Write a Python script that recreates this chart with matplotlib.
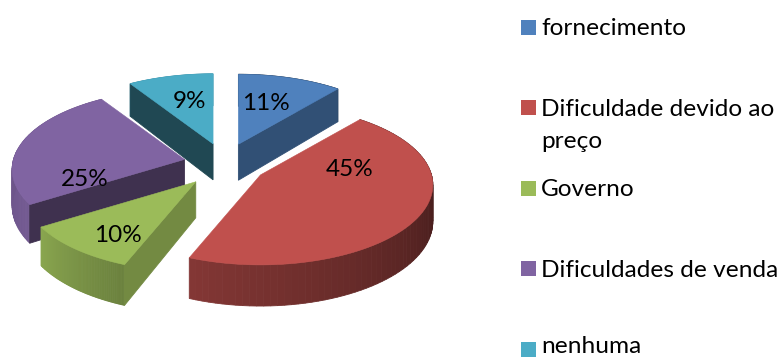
# Exploded 3D pie chart with a hand-placed legend on the right.
# matplotlib has no 3D pie, so each slice is projected with a small perspective.

import numpy as np
import matplotlib
matplotlib.use("Agg")
import matplotlib.pyplot as plt
from matplotlib.patches import Rectangle

# Data
categories = ["fornecimento", "Dificuldade devido ao\npreço", "Governo",
              "Dificuldades de venda", "nenhuma"]
values = [11, 45, 10, 25, 9]

# Colours
colors = ["#4F81BD", "#C0504D", "#9BBB59", "#8064A2", "#4BACC6"]
wall_shade = [0.62, 0.4, 0.74, 0.49, 0.42]

# Pie geometry, in pixels
center_x, center_y = 224.5, 164
radius_x, radius_y = 171, 78.75
tilt = 0.125
depth = 36
explode_x, explode_y = 41, 21
explode = [1.0, 1.02, 1.1, 1.0, 1.0]

# Percent labels and legend layout
label_pos = [(266, 103), (350, 170), (118, 236), (85, 179), (190, 101)]
legend_y = [20, 100, 181, 261, 342]
legend_base = [35, 116, 196, 277, 353]
line_gap = 32
draw_order = [4, 0, 3, 1, 2]


def project(theta, apex, r=1.0):
    # theta runs clockwise from 12 o'clock, in degrees
    t = np.radians(theta)
    u, v = r * np.sin(t), r * np.cos(t)
    w = 1 + tilt * v
    return apex[0] + radius_x * u / w, apex[1] - radius_y * v / w, w


def drop(theta, apex, r=1.0):
    # same point on the underside of the slice
    x, y, w = project(theta, apex, r)
    return x, y + depth / w


def rim_shade(theta):
    return np.interp(theta, [90, 200, 240, 270], [0.35, 0.68, 0.9, 0.85])


def darker(color, factor):
    rgb = np.array(matplotlib.colors.to_rgb(color))
    return tuple(rgb * factor)


fig = plt.figure(figsize=(7.81, 3.58), dpi=100)
ax = fig.add_axes([0, 0, 1, 1])
ax.set_xlim(0, 781)
ax.set_ylim(358, 0)
ax.axis("off")

plt.rcParams["font.family"] = ["Lato", "DejaVu Sans"]

edges = np.concatenate([[0], np.cumsum(values)]) * 360 / sum(values)

for i in draw_order:
    start, end = edges[i], edges[i + 1]
    mid = np.radians((start + end) / 2)
    apex = (center_x + explode[i] * explode_x * np.sin(mid),
            center_y - explode[i] * explode_y * np.cos(mid))
    angles = np.linspace(start, end, 80)

    # outer rim, strip by strip so the shading can change around the pie
    for a, b in zip(angles[:-1], angles[1:]):
        xa, ya, _ = project(a, apex)
        xb, yb, _ = project(b, apex)
        xc, yc = drop(b, apex)
        xd, yd = drop(a, apex)
        shade = darker(colors[i], rim_shade((a + b) / 2))
        ax.fill([xa, xb, xc, xd], [ya, yb, yc, yd], color=shade, lw=0.6)

    # flat cut faces, only the ones turned towards the viewer
    faces = []
    if np.sin(np.radians(start)) < -1e-6:
        faces.append(start)
    if np.sin(np.radians(end)) > 1e-6:
        faces.append(end)
    for theta in faces:
        xe, ye, _ = project(theta, apex)
        xf, yf = drop(theta, apex)
        ax.fill([apex[0], xe, xf, apex[0]], [apex[1], ye, yf, apex[1] + depth],
                color=darker(colors[i], wall_shade[i]), lw=0.6)

    # top of the slice
    pts = [project(a, apex)[:2] for a in angles]
    xs = [apex[0]] + [p[0] for p in pts]
    ys = [apex[1]] + [p[1] for p in pts]
    ax.fill(xs, ys, color=colors[i], lw=0.4)

for value, (x, y) in zip(values, label_pos):
    ax.text(x, y, f"{value}%", ha="center", va="center", fontsize=17.5, color="black")

# Legend
for name, color, top, base in zip(categories, colors, legend_y, legend_base):
    ax.add_patch(Rectangle((521, top), 15, 15, facecolor=color, edgecolor="none"))
    for n, line in enumerate(name.split("\n")):
        ax.text(541, base + n * line_gap, line, ha="left", va="baseline",
                fontsize=17.6, color="black", clip_on=False)

fig.savefig("out.png", dpi=100, facecolor="white")
